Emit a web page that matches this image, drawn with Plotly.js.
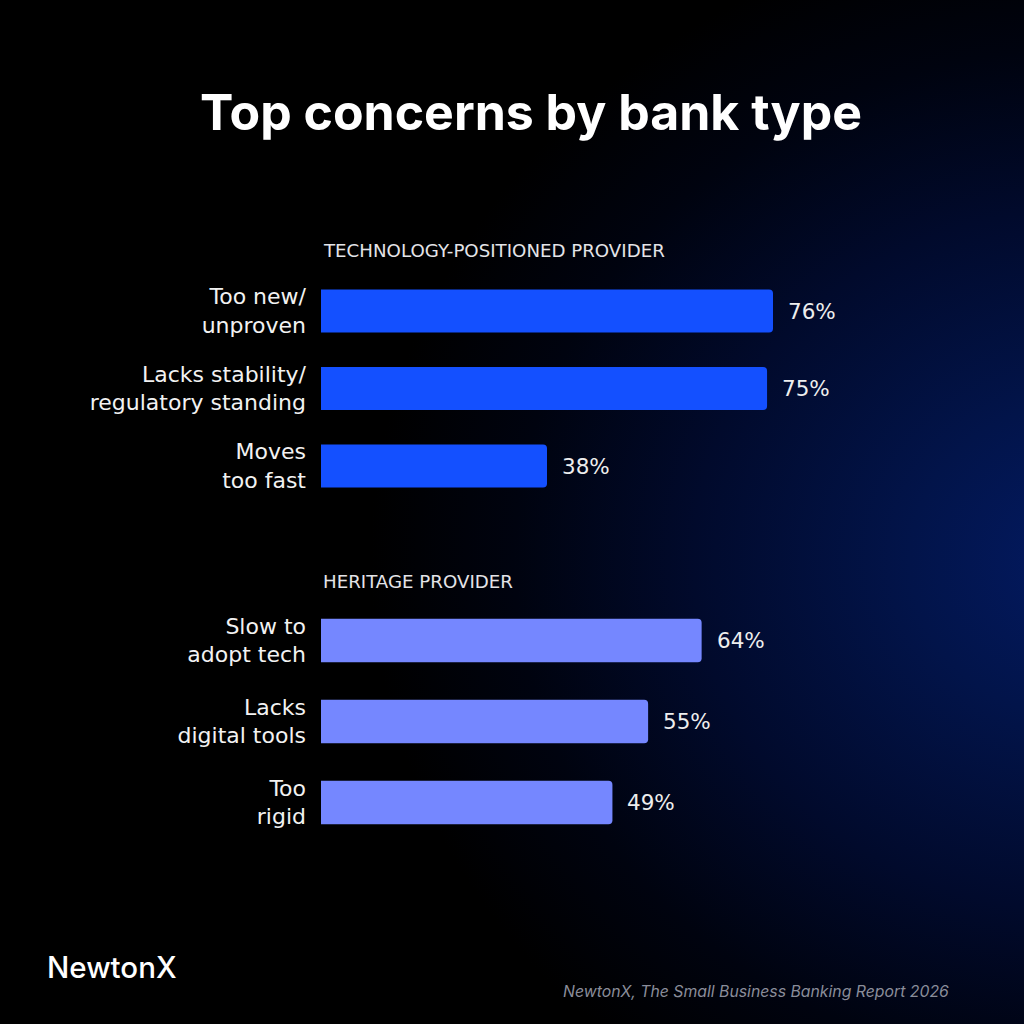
<!DOCTYPE html>
<html>
<head>
<meta charset="utf-8">
<script src="https://cdn.plot.ly/plotly-3.0.1.min.js"></script>
<style>
  html, body { margin: 0; padding: 0; width: 1024px; height: 1024px; overflow: hidden; }
  body {
    background: #000;
    background-image: radial-gradient(ellipse 720px 640px at 1090px 560px, #031a62 0%, #02144a 25%, #010a2c 55%, #00030f 80%, #000000 100%);
  }
  #chart { width: 1024px; height: 1024px; }
</style>
</head>
<body>
<div id="chart"></div>
<script>
// ---- Data ----
const techCategories = ['Too new/<br>unproven', 'Lacks stability/<br>regulatory standing', 'Moves<br>too fast'];
const techValues = [76, 75, 38];
const heritageCategories = ['Slow to<br>adopt tech', 'Lacks<br>digital tools', 'Too<br>rigid'];
const heritageValues = [64, 55, 49];
const groupTitles = ['TECHNOLOGY-POSITIONED PROVIDER', 'HERITAGE PROVIDER'];
const chartTitle = 'Top concerns by bank type';
const brandName = 'NewtonX';
const sourceNote = 'NewtonX, The Small Business Banking Report 2026';

// ---- Styles ----
const FONT = 'Inter, "Noto Sans", sans-serif';
const BODY = '"DejaVu Sans", Inter, sans-serif';
const techColor = '#1450FF';
const heritageColor = '#7587FF';
const H = 1024;
const px2y = p => 1 - p / H;
const px2x = p => (p - 321) / 703;

const traces = [
  {
    type: 'bar', orientation: 'h',
    x: techValues, y: techCategories,
    xaxis: 'x', yaxis: 'y',
    width: 0.555,
    marker: { color: techColor, cornerradius: 4 },
    hoverinfo: 'skip'
  },
  {
    type: 'bar', orientation: 'h',
    x: heritageValues, y: heritageCategories,
    xaxis: 'x', yaxis: 'y2',
    width: 0.534,
    marker: { color: heritageColor, cornerradius: 4 },
    hoverinfo: 'skip'
  }
];

const annotations = [];
function valueLabels(cats, vals, yref) {
  cats.forEach((c, i) => {
    annotations.push({
      x: vals[i], y: c, xref: 'x', yref: yref,
      text: vals[i] + '%', showarrow: false,
      xanchor: 'left', yanchor: 'middle', xshift: 13,
      font: { family: BODY, size: 21.5, color: '#eeeeee' }
    });
  });
}
valueLabels(techCategories, techValues, 'y');
valueLabels(heritageCategories, heritageValues, 'y2');

annotations.push({
  x: 0, y: px2y(250), xref: 'paper', yref: 'paper',
  text: groupTitles[0], showarrow: false, xanchor: 'left', yanchor: 'middle',
  font: { family: BODY, size: 18.2, color: '#e4e4e8' }
});
annotations.push({
  x: 0, y: px2y(581), xref: 'paper', yref: 'paper',
  text: groupTitles[1], showarrow: false, xanchor: 'left', yanchor: 'middle',
  font: { family: BODY, size: 18.2, color: '#e4e4e8' }
});
annotations.push({
  x: px2x(45), y: px2y(967), xref: 'paper', yref: 'paper',
  text: brandName, showarrow: false, xanchor: 'left', yanchor: 'middle',
  font: { family: FONT, size: 29.5, color: '#ffffff', weight: 500 }
});
annotations.push({
  x: px2x(951), y: px2y(991), xref: 'paper', yref: 'paper',
  text: '<i>' + sourceNote + '</i>', showarrow: false, xanchor: 'right', yanchor: 'middle',
  font: { family: FONT, size: 15.8, color: '#8a8d9a' }
});

const yCommon = {
  type: 'category',
  showgrid: false, zeroline: false, showline: false,
  ticks: '', ticklabelstandoff: 14,
  tickfont: { family: BODY, size: 22, color: '#f2f2f2' },
  fixedrange: true
};

const layout = {
  width: 1024, height: 1024,
  margin: { l: 321, r: 0, t: 0, b: 0 },
  paper_bgcolor: 'rgba(0,0,0,0)',
  plot_bgcolor: 'rgba(0,0,0,0)',
  showlegend: false,
  title: {
    text: chartTitle,
    xref: 'container', yref: 'container',
    x: 531 / 1024, y: px2y(112), xanchor: 'center', yanchor: 'middle',
    font: { family: FONT, size: 50, color: '#ffffff', weight: 700 }
  },
  xaxis: {
    range: [0, 118.2], visible: false, fixedrange: true, anchor: 'y'
  },
  yaxis: Object.assign({}, yCommon, {
    domain: [px2y(504.75), px2y(272.25)],
    range: [2.5, -0.5], anchor: 'x'
  }),
  yaxis2: Object.assign({}, yCommon, {
    domain: [px2y(843), px2y(600)],
    range: [2.5, -0.5], anchor: 'x'
  }),
  annotations: annotations
};

Plotly.newPlot('chart', traces, layout, { displayModeBar: false, staticPlot: true });
</script>
</body>
</html>
